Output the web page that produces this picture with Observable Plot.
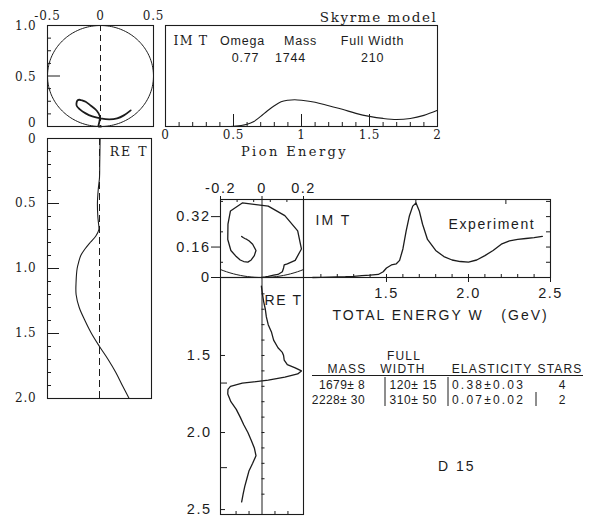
<!DOCTYPE html>
<html><head><meta charset="utf-8">
<script src="https://cdn.jsdelivr.net/npm/d3@7"></script>
<script src="https://cdn.jsdelivr.net/npm/@observablehq/plot@0.6"></script>
<style>
html,body{margin:0;padding:0;background:#fff;}
#root{position:relative;width:593px;height:518px;overflow:hidden;background:#fff;}
#root svg{position:absolute;}
</style></head><body><div id="root"></div>
<script>
// ---------- DATA ----------
// Skyrme model (pion energy E, GeV)
const skyE   = [0, 0.1, 0.2, 0.3, 0.4, 0.5, 0.6, 0.65, 0.7, 0.75, 0.8, 0.85, 0.9, 0.95, 1.0, 1.1, 1.2, 1.3, 1.4, 1.5, 1.6, 1.7, 1.8, 1.9, 2.0];
const skyImT = [0, 0, 0, 0, 0, 0.002, 0.023, 0.05, 0.10, 0.156, 0.205, 0.245, 0.26, 0.265, 0.26, 0.24, 0.205, 0.17, 0.13, 0.10, 0.08, 0.07, 0.08, 0.11, 0.16];
const skyReT = [0.006, 0.004, 0.002, 0, -0.013, -0.02, -0.016, -0.01, -0.006, -0.035, -0.09, -0.14, -0.18, -0.2, -0.215, -0.225, -0.225, -0.195, -0.14, -0.077, 0, 0.083, 0.157, 0.22, 0.285];
// Experiment (total energy W, GeV)
const expW   = [1.05, 1.10, 1.15, 1.20, 1.25, 1.30, 1.35, 1.40, 1.45, 1.48, 1.50, 1.53, 1.56, 1.58, 1.60, 1.62, 1.64, 1.66, 1.68, 1.70, 1.72, 1.75, 1.80, 1.85, 1.90, 1.95, 2.00, 2.05, 2.10, 2.15, 2.20, 2.25, 2.30, 2.35, 2.40, 2.45];
const expImT = [0.000, 0.001, 0.002, 0.003, 0.004, 0.006, 0.010, 0.012, 0.016, 0.030, 0.050, 0.066, 0.072, 0.090, 0.150, 0.245, 0.325, 0.375, 0.392, 0.350, 0.280, 0.200, 0.142, 0.110, 0.092, 0.084, 0.081, 0.092, 0.115, 0.142, 0.175, 0.193, 0.200, 0.205, 0.210, 0.216];
const expReT = [-0.003, 0.002, 0.008, 0.016, 0.021, 0.030, 0.046, 0.056, 0.077, 0.098, 0.104, 0.107, 0.122, 0.160, 0.190, 0.172, 0.110, 0.030, -0.095, -0.152, -0.164, -0.165, -0.150, -0.124, -0.105, -0.088, -0.068, -0.052, -0.037, -0.029, -0.045, -0.063, -0.073, -0.083, -0.091, -0.098];
const resonanceW = [1.679, 2.228];
// tick labels
const skyTicksRe = [-0.5, 0, 0.5];
const skyTicksIm = [0, 0.5, 1];
const skyTicksE  = [0, 0.5, 1, 1.5, 2];
const expTicksRe = [-0.2, 0, 0.2];
const expTicksIm = [0, 0.16, 0.32];
const expTicksW  = [1.5, 2.0, 2.5];
// texts
const skyHeader = ["Omega", "Mass", "Full Width"];
const skyValues = ["0.77", "1744", "210"];
const tableSuper = ["", "FULL", "", ""];
const tableHead = ["MASS", "WIDTH", "ELASTICITY", "STARS"];
const tableRows = [["1679± 8", "120± 15", "0.38±0.03", "4"], ["2228± 30", "310± 50", "0.07±0.02", "2"]];

// ---------- LAYOUT ----------
const ink = "#1c1c1c";
const SERIF = "DejaVu Serif, serif";
const SANS = "Liberation Sans, Arial, sans-serif";
const L = {
  A: {left: 0,   top: 0,   w: 160, h: 132, ml: 47, mr: 7,  mt: 25, mb: 6},
  B: {left: 150, top: 0,   w: 300, h: 166, ml: 15, mr: 13, mt: 25, mb: 40},
  C: {left: 0,   top: 128, w: 160, h: 280, ml: 47, mr: 9,  mt: 10, mb: 10},
  D: {left: 160, top: 170, w: 150, h: 112, ml: 60, mr: 7,  mt: 29, mb: 5},
  E: {left: 296, top: 170, w: 280, h: 170, ml: 7,  mr: 26, mt: 29, mb: 63},
  F: {left: 160, top: 270, w: 150, h: 248, ml: 60, mr: 7,  mt: 7,  mb: 4}
};
const dims = p => ({width: p.w, height: p.h, marginLeft: p.ml, marginRight: p.mr, marginTop: p.mt, marginBottom: p.mb});
const fw = p => p.w - p.ml - p.mr;
const fh = p => p.h - p.mt - p.mb;
const baseStyle = {background: "none", overflow: "visible", color: ink};
const root = document.getElementById("root");
function place(svg, p) { svg.style.left = p.left + "px"; svg.style.top = p.top + "px"; root.appendChild(svg); return svg; }
// letter-spacing for all texts of a plot, with overrides by text content
function spacing(svg, all, overrides = {}) {
  svg.querySelectorAll("text").forEach(t => {
    const s = t.textContent;
    t.style.letterSpacing = (s in overrides ? overrides[s] : all) + "px";
  });
}

const sky = skyE.map((e, i) => ({e, im: skyImT[i], re: skyReT[i]}));
const exp = expW.map((w, i) => ({w, im: expImT[i], re: expReT[i]}));
// unitarity circle: centre (0, 0.5), radius 0.5 (geometric reference)
const circle = d3.range(0, 361, 2).map(a => ({x: 0.5 * Math.sin(a * Math.PI / 180), y: 0.5 - 0.5 * Math.cos(a * Math.PI / 180)}));
const notHalf = v => Math.abs(v * 2 - Math.round(v * 2)) > 1e-6;
const fmt1 = d => d === 0 ? "0" : d.toFixed(1);

// ---------- A: Skyrme Argand ----------
{
  const p = L.A;
  const svg = Plot.plot({
    ...dims(p), style: {...baseStyle, fontFamily: SERIF},
    x: {domain: [-0.5, 0.5]}, y: {domain: [0, 1]},
    marks: [
      Plot.line(circle, {x: "x", y: "y", stroke: ink, strokeWidth: 1}),
      Plot.ruleX([0], {stroke: ink, strokeDasharray: "6,4", strokeWidth: 1}),
      Plot.line(sky, {x: "re", y: "im", curve: "catmull-rom", stroke: ink, strokeWidth: 1.8}),
      Plot.tickY(d3.range(0.125, 1, 0.125).filter(v => v !== 0.5), {insetRight: fw(p) - 4, stroke: ink}),
      Plot.tickY([0.5], {insetRight: fw(p) - 13, stroke: ink}),
      Plot.frame({stroke: ink, strokeWidth: 1.1}),
      Plot.axisX({anchor: "top", ticks: skyTicksRe, tickFormat: d => String(d), tickSize: 0, tickPadding: 6, fontSize: 12, label: null}),
      Plot.axisY({anchor: "left", ticks: skyTicksIm.filter(d => d !== 0), tickFormat: fmt1, tickSize: 0, tickPadding: 11, dy: 1, fontSize: 12, label: null}),
      Plot.axisY({anchor: "left", ticks: [0], tickFormat: fmt1, tickSize: 0, tickPadding: 11, dy: -3, fontSize: 12, label: null})
    ]
  });
  spacing(svg, 0.8);
  place(svg, p);
}

// ---------- B: Skyrme Im T vs pion energy ----------
{
  const p = L.B;
  const hdrDx = [77, 135, 207], valDx = [80, 125, 207];
  const svg = Plot.plot({
    ...dims(p), style: {...baseStyle, fontFamily: SERIF},
    x: {domain: [0, 2]}, y: {domain: [0, 1], axis: null},
    marks: [
      Plot.line(sky, {x: "e", y: "im", curve: "catmull-rom", stroke: ink, strokeWidth: 1.1}),
      Plot.tickX(d3.range(0.1, 2, 0.1).filter(notHalf), {insetTop: fh(p) - 4, stroke: ink}),
      Plot.tickX([0.5, 1, 1.5], {insetTop: fh(p) - 12, stroke: ink}),
      Plot.frame({stroke: ink, strokeWidth: 1.1}),
      Plot.axisX({ticks: skyTicksE, tickFormat: d => String(d), tickSize: 0, tickPadding: 4, fontSize: 12, label: null}),
      Plot.text(["Pion Energy"], {frameAnchor: "bottom", dy: 29, dx: -7, fontSize: 13, fill: ink}),
      Plot.text(["Skyrme model"], {frameAnchor: "top-right", textAnchor: "end", dy: -13, fontSize: 13.5, fill: ink}),
      Plot.text(["IM T"], {frameAnchor: "top-left", textAnchor: "start", dx: 8, dy: 11, fontSize: 12.5, fill: ink}),
      ...skyHeader.map((t, i) => Plot.text([t], {frameAnchor: "top-left", textAnchor: "middle", dx: hdrDx[i], dy: 11, fontFamily: SANS, fontSize: 12.5, fill: ink})),
      ...skyValues.map((t, i) => Plot.text([t], {frameAnchor: "top-left", textAnchor: "middle", dx: valDx[i], dy: 28, fontFamily: SANS, fontSize: 12.5, fill: ink}))
    ]
  });
  spacing(svg, 0.8, {"Pion Energy": 2.4, "Skyrme model": 1.6, "IM T": 1.2});
  place(svg, p);
}

// ---------- C: Skyrme Re T (vertical) ----------
{
  const p = L.C;
  const svg = Plot.plot({
    ...dims(p), style: {...baseStyle, fontFamily: SERIF},
    x: {domain: [-0.5, 0.5], axis: null}, y: {domain: [0, 2], reverse: true},
    marks: [
      Plot.ruleX([0], {stroke: ink, strokeDasharray: "7,4", strokeWidth: 1}),
      Plot.line(sky, {x: "re", y: "e", curve: "catmull-rom", stroke: ink, strokeWidth: 1.1}),
      Plot.tickY(d3.range(0.1, 2, 0.1).filter(notHalf), {insetRight: fw(p) - 4, stroke: ink}),
      Plot.tickY([0.5, 1, 1.5], {insetRight: fw(p) - 12, stroke: ink}),
      Plot.frame({stroke: ink, strokeWidth: 1.1}),
      Plot.axisY({ticks: skyTicksE.filter(d => d !== 0), tickFormat: fmt1, tickSize: 0, tickPadding: 11, fontSize: 12, label: null}),
      Plot.axisY({ticks: [0], tickFormat: fmt1, tickSize: 0, tickPadding: 11, dy: 1, fontSize: 12, label: null}),
      Plot.text(["RE T"], {frameAnchor: "top-right", textAnchor: "end", dx: -3, dy: 9, fontSize: 12.5, fill: ink})
    ]
  });
  spacing(svg, 0.8, {"RE T": 2});
  place(svg, p);
}

// ---------- D: Experiment Argand ----------
{
  const p = L.D;
  const svg = Plot.plot({
    ...dims(p), style: {...baseStyle, fontFamily: SANS},
    x: {domain: [-0.2, 0.2]}, y: {domain: [0, 0.41]},
    marks: [
      Plot.line(circle, {x: "x", y: "y", stroke: ink, strokeWidth: 1, clip: true}),
      Plot.ruleX([0], {stroke: ink, strokeWidth: 1}),
      Plot.line(exp, {x: "re", y: "im", stroke: ink, strokeWidth: 1.3}),
      Plot.tickY([0.08, 0.24, 0.40], {insetRight: fw(p) - 3, stroke: ink}),
      Plot.tickX([-0.12, -0.04, 0.04, 0.12], {insetBottom: fh(p) - 3, stroke: ink}),
      Plot.frame({stroke: ink, strokeWidth: 1.1}),
      Plot.axisX({anchor: "top", ticks: expTicksRe, tickFormat: d => String(d), tickSize: 4, tickPadding: 3, fontSize: 14.5, label: null}),
      Plot.axisY({anchor: "left", ticks: expTicksIm, tickFormat: d => String(d), tickSize: 9, tickPadding: 1, fontSize: 14.5, label: null})
    ]
  });
  spacing(svg, 1.5);
  place(svg, p);
}

// ---------- E: Experiment Im T vs W ----------
{
  const p = L.E;
  const svg = Plot.plot({
    ...dims(p), style: {...baseStyle, fontFamily: SANS},
    x: {domain: [0.994, 2.5]}, y: {domain: [0, 0.41], axis: null},
    marks: [
      Plot.line(exp, {x: "w", y: "im", stroke: ink, strokeWidth: 1.3}),
      Plot.tickX(d3.range(1.1, 2.45, 0.1), {insetTop: fh(p) - 3, stroke: ink}),
      Plot.tickX(resonanceW, {insetBottom: fh(p) - 5, stroke: ink}),
      Plot.tickY([0.08, 0.16, 0.24, 0.32, 0.40], {insetLeft: fw(p) - 4, stroke: ink}),
      Plot.frame({stroke: ink, strokeWidth: 1.1}),
      Plot.axisX({ticks: expTicksW, tickFormat: d => d.toFixed(1), tickSize: 5, tickPadding: 5, fontSize: 14.5, label: null}),
      Plot.text(["IM T"], {frameAnchor: "top-left", textAnchor: "start", dx: 12, dy: 16, fontSize: 14, fill: ink}),
      Plot.text(["Experiment"], {frameAnchor: "top-left", textAnchor: "start", dx: 145, dy: 20, fontSize: 14, fill: ink}),
      Plot.text(["TOTAL ENERGY W   (GeV)"], {frameAnchor: "bottom-left", textAnchor: "start", dx: 29, dy: 42, fontSize: 14, fill: ink})
    ]
  });
  spacing(svg, 1.5, {"IM T": 2, "Experiment": 1.6, "TOTAL ENERGY W   (GeV)": 2});
  place(svg, p);
}

// ---------- F: Experiment Re T (vertical) ----------
{
  const p = L.F;
  const zeroInset = fw(p) / 2;
  const svg = Plot.plot({
    ...dims(p), style: {...baseStyle, fontFamily: SANS},
    x: {domain: [-0.2, 0.2], axis: null}, y: {domain: [0.994, 2.532], reverse: true},
    marks: [
      Plot.ruleX([0], {stroke: ink, strokeWidth: 1}),
      Plot.line(exp, {x: "re", y: "w", stroke: ink, strokeWidth: 1.3}),
      Plot.tickY(expTicksW, {insetRight: fw(p) - 5, stroke: ink}),
      Plot.tickY(resonanceW, {insetRight: fw(p) - 7, stroke: ink}),
      Plot.tickY(d3.range(1.1, 2.45, 0.1), {insetLeft: zeroInset, insetRight: fw(p) - zeroInset - 3, stroke: ink}),
      Plot.tickX([-0.125, -0.0625, 0.0625, 0.125], {insetTop: fh(p) - 3, stroke: ink}),
      Plot.frame({stroke: ink, strokeWidth: 1.1}),
      Plot.axisY({ticks: expTicksW, tickFormat: d => d.toFixed(1), tickSize: 0, tickPadding: 9, fontSize: 14.5, label: null}),
      Plot.text(["RE T"], {frameAnchor: "top-left", textAnchor: "start", dx: 44, dy: 18, fontSize: 14, fill: ink})
    ]
  });
  spacing(svg, 1.5, {"RE T": 1.6});
  place(svg, p);
}

// ---------- Table & label ----------
{
  const T = {superY: 360, headY: 373, lineY: 375.5, rowY: [389, 404],
             headX: [347, 403, 492, 560], superX: [0, 404, 0, 0],
             cellX: [365, 437, 452, 562], cellAnchor: ["end", "end", "start", "middle"],
             cellSpacing: [0.4, 0.6, 2.2, 0], cellSize: [12, 12, 12, 12],
             line: [312, 583], seps: [[385, 377, 406], [448, 377, 406], [536, 392, 406]]};
  const svg = d3.create("svg").attr("width", 593).attr("height", 518)
    .style("left", "0px").style("top", "0px").style("pointer-events", "none")
    .attr("font-family", SANS).attr("fill", ink);
  svg.selectAll("text.sup").data(tableSuper.map((t, i) => ({t, i})).filter(d => d.t)).join("text")
    .attr("x", d => T.superX[d.i]).attr("y", T.superY).attr("text-anchor", "middle")
    .attr("font-size", 12).attr("letter-spacing", 1.2).text(d => d.t);
  svg.selectAll("text.head").data(tableHead).join("text")
    .attr("x", (d, i) => T.headX[i]).attr("y", T.headY).attr("text-anchor", "middle")
    .attr("font-size", 12).attr("letter-spacing", 1.2).text(d => d);
  svg.append("line").attr("x1", T.line[0]).attr("x2", T.line[1]).attr("y1", T.lineY).attr("y2", T.lineY)
    .attr("stroke", ink).attr("stroke-width", 1);
  tableRows.forEach((row, r) => {
    svg.append("g").selectAll("text").data(row).join("text")
      .attr("x", (d, i) => T.cellX[i]).attr("y", T.rowY[r]).attr("text-anchor", (d, i) => T.cellAnchor[i])
      .attr("font-size", (d, i) => T.cellSize[i]).attr("letter-spacing", (d, i) => T.cellSpacing[i])
      .style("white-space", "pre").text(d => d);
  });
  T.seps.forEach(([x, y1, y2]) => svg.append("line").attr("x1", x).attr("x2", x).attr("y1", y1).attr("y2", y2)
    .attr("stroke", ink).attr("stroke-width", 1));
  svg.append("text").attr("x", 438).attr("y", 471).attr("font-size", 14).attr("letter-spacing", 2).text("D 15");
  root.appendChild(svg.node());
}
</script></body></html>
